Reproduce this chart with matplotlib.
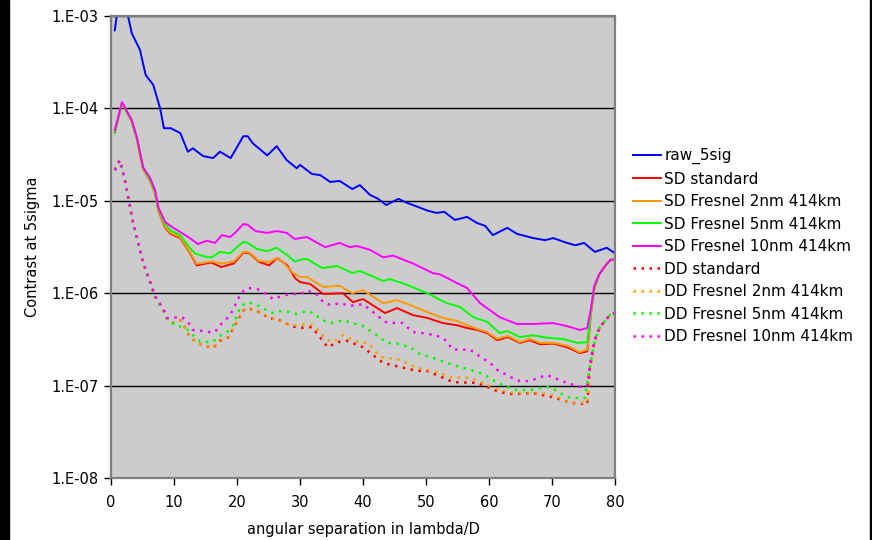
import matplotlib
matplotlib.use("Agg")
import matplotlib.pyplot as plt
from matplotlib.patches import Rectangle
from matplotlib.ticker import FixedLocator, FuncFormatter, NullLocator
import numpy as np

# ---------------- data ----------------
raw_x = [0.6, 1.2, 2.0, 2.7, 3.3, 4.6, 5.5, 6.7, 7.8, 8.4, 9.5, 11.0, 12.2, 13.0, 14.6, 16.2, 17.3, 19.0,
         21.0, 21.7, 22.5, 24.8, 26.3, 27.9, 29.5, 30.0, 31.9, 33.2, 34.8, 36.3, 38.3, 39.5, 41.1, 42.4,
         43.7, 45.6, 47.0, 48.7, 50.3, 51.7, 52.9, 54.6, 56.5, 58.1, 59.4, 60.6, 62.9, 64.4, 67.0, 68.9,
         70.2, 72.1, 73.7, 75.1, 76.8, 78.7, 80.0]
raw_y = [7.0e-4, 1.4e-3, 1.6e-3, 1.0e-3, 6.5e-4, 4.3e-4, 2.3e-4, 1.8e-4, 1.0e-4, 6.1e-5, 6.1e-5, 5.4e-5,
         3.4e-5, 3.7e-5, 3.05e-5, 2.9e-5, 3.4e-5, 2.9e-5, 5.0e-5, 5.0e-5, 4.2e-5, 3.1e-5, 3.9e-5, 2.75e-5,
         2.25e-5, 2.45e-5, 1.95e-5, 1.9e-5, 1.6e-5, 1.64e-5, 1.34e-5, 1.48e-5, 1.16e-5, 1.05e-5, 9.0e-6,
         1.05e-5, 9.5e-6, 8.6e-6, 7.8e-6, 7.4e-6, 7.6e-6, 6.2e-6, 6.7e-6, 5.75e-6, 5.35e-6, 4.25e-6, 5.1e-6,
         4.4e-6, 3.95e-6, 3.75e-6, 3.95e-6, 3.55e-6, 3.3e-6, 3.5e-6, 2.8e-6, 3.1e-6, 2.7e-6]

sd10_x = [0.6, 1.75, 3.3, 4.1, 5.1, 6.2, 7.0, 7.5, 8.6, 9.7, 11.0, 12.5, 13.8, 15.2, 16.5, 17.6, 18.9, 19.7,
          21.0, 21.7, 22.9, 24.8, 26.3, 27.9, 29.2, 30.0, 31.1, 34.0, 36.3, 37.9, 39.0, 41.1, 43.2, 44.8,
          47.9, 51.1, 52.2, 54.9, 56.5, 58.6, 61.7, 64.4, 67.0, 70.2, 72.4, 74.4, 75.6, 76.2, 76.7, 77.5,
          78.5, 79.3, 80.0]
sd10_y = [5.8e-5, 1.17e-4, 7.5e-5, 4.9e-5, 2.3e-5, 1.77e-5, 1.31e-5, 8.6e-6, 5.9e-6, 5.2e-6, 4.6e-6, 3.95e-6,
          3.4e-6, 3.7e-6, 3.5e-6, 4.25e-6, 4.05e-6, 4.5e-6, 5.6e-6, 5.5e-6, 4.7e-6, 4.5e-6, 4.7e-6, 4.5e-6,
          3.85e-6, 3.95e-6, 4.05e-6, 3.15e-6, 3.5e-6, 3.15e-6, 3.25e-6, 2.95e-6, 2.45e-6, 2.55e-6, 2.1e-6,
          1.65e-6, 1.6e-6, 1.29e-6, 1.14e-6, 7.8e-7, 5.5e-7, 4.65e-7, 4.65e-7, 4.75e-7, 4.4e-7, 4.0e-7,
          4.2e-7, 7.0e-7, 1.2e-6, 1.6e-6, 2.0e-6, 2.3e-6, 2.3e-6]

sd5_x = [0.6, 1.75, 3.3, 4.1, 5.1, 6.2, 7.0, 7.5, 8.6, 9.4, 11.0, 12.5, 13.3, 15.2, 16.0, 17.3, 18.9, 21.0,
         21.7, 23.2, 24.8, 26.3, 27.9, 29.2, 30.0, 31.1, 33.5, 35.9, 38.3, 39.5, 43.2, 44.3, 47.0, 50.2,
         53.3, 55.4, 57.5, 59.7, 61.7, 62.9, 64.9, 67.0, 69.2, 71.7, 74.0, 75.6, 76.2, 76.7, 77.5, 78.5,
         79.3, 80.0]
sd5_y = [5.5e-5, 1.15e-4, 7.3e-5, 4.8e-5, 2.25e-5, 1.7e-5, 1.25e-5, 8.3e-6, 5.6e-6, 4.8e-6, 4.25e-6, 3.1e-6,
         2.7e-6, 2.45e-6, 2.45e-6, 2.8e-6, 2.7e-6, 3.6e-6, 3.5e-6, 3.0e-6, 2.85e-6, 3.1e-6, 2.6e-6, 2.2e-6,
         2.3e-6, 2.35e-6, 1.87e-6, 1.97e-6, 1.65e-6, 1.74e-6, 1.36e-6, 1.42e-6, 1.23e-6, 1.0e-6, 7.8e-7,
         7.1e-7, 5.5e-7, 4.9e-7, 3.7e-7, 3.9e-7, 3.35e-7, 3.5e-7, 3.3e-7, 3.2e-7, 2.9e-7, 2.95e-7, 6.5e-7,
         1.15e-6, 1.6e-6, 2.0e-6, 2.3e-6, 2.3e-6]

sd2_x = [0.6, 1.75, 3.3, 4.1, 5.1, 6.2, 7.0, 7.5, 8.6, 9.4, 11.0, 12.5, 13.6, 15.9, 17.5, 19.5, 21.0, 22.0,
         23.5, 25.1, 26.4, 27.3, 28.9, 30.0, 31.1, 33.7, 36.3, 38.3, 40.0, 43.2, 45.4, 47.5, 50.2, 52.7,
         54.9, 58.1, 59.7, 61.3, 63.0, 64.9, 66.5, 68.1, 70.2, 72.4, 74.4, 75.6, 76.2, 76.7, 77.5, 78.5,
         79.3, 80.0]
sd2_y = [5.5e-5, 1.15e-4, 7.2e-5, 4.7e-5, 2.2e-5, 1.65e-5, 1.2e-5, 8.0e-6, 5.2e-6, 4.5e-6, 4.05e-6, 2.8e-6,
         2.07e-6, 2.2e-6, 2.1e-6, 2.2e-6, 2.8e-6, 2.75e-6, 2.23e-6, 2.18e-6, 2.4e-6, 2.18e-6, 1.65e-6,
         1.5e-6, 1.5e-6, 1.17e-6, 1.2e-6, 1.0e-6, 1.08e-6, 7.8e-7, 8.4e-7, 7.45e-7, 6.25e-7, 5.4e-7, 5.0e-7,
         4.1e-7, 3.8e-7, 3.2e-7, 3.45e-7, 2.95e-7, 3.2e-7, 2.9e-7, 2.9e-7, 2.7e-7, 2.3e-7, 2.45e-7, 6.3e-7,
         1.1e-6, 1.6e-6, 2.0e-6, 2.3e-6, 2.3e-6]

sd0_x = [0.6, 1.75, 3.3, 4.1, 5.1, 6.2, 7.0, 7.5, 8.6, 9.4, 11.0, 12.5, 13.6, 15.9, 17.5, 19.5, 21.0, 22.0,
         23.5, 25.1, 26.4, 28.0, 29.2, 30.0, 31.6, 33.7, 36.8, 38.4, 40.0, 43.5, 45.4, 47.9, 50.2, 52.7,
         54.9, 56.5, 58.1, 59.7, 61.3, 63.0, 64.9, 66.5, 68.1, 70.2, 72.4, 74.4, 75.6, 76.2, 76.7, 77.5,
         78.5, 79.3, 80.0]
sd0_y = [5.5e-5, 1.15e-4, 7.2e-5, 4.7e-5, 2.2e-5, 1.65e-5, 1.2e-5, 7.9e-6, 5.1e-6, 4.4e-6, 3.95e-6, 2.75e-6,
         2.0e-6, 2.15e-6, 1.92e-6, 2.1e-6, 2.75e-6, 2.7e-6, 2.18e-6, 2.0e-6, 2.4e-6, 2.0e-6, 1.46e-6,
         1.32e-6, 1.26e-6, 9.8e-7, 1.0e-6, 8.0e-7, 8.65e-7, 6.1e-7, 6.9e-7, 5.8e-7, 5.4e-7, 4.75e-7, 4.5e-7,
         4.2e-7, 4.0e-7, 3.7e-7, 3.1e-7, 3.35e-7, 2.9e-7, 3.1e-7, 2.8e-7, 2.85e-7, 2.6e-7, 2.25e-7, 2.35e-7,
         6.2e-7, 1.1e-6, 1.6e-6, 2.0e-6, 2.3e-6, 2.3e-6]

dd0_x = [0.6, 1.4, 2.2, 2.7, 3.5, 4.3, 5.1, 6.2, 7.0, 8.3, 9.0, 9.8, 11.0, 11.4, 12.5, 13.7, 14.6, 16.2, 17.3,
         18.7, 19.4, 20.2, 20.8, 21.7, 23.2, 24.1, 25.2, 26.0, 27.3, 28.7, 30.0, 31.9, 34.4, 35.9, 37.5,
         40.0, 43.2, 45.9, 48.6, 50.2, 54.3, 58.1, 61.7, 63.8, 67.0, 70.2, 72.9, 75.6, 76.0, 76.8, 77.6,
         79.2, 80.0]
dd0_y = [2.15e-5, 2.75e-5, 1.68e-5, 1.1e-5, 5.75e-6, 3.5e-6, 2.1e-6, 1.32e-6, 9.1e-7, 6.6e-7, 5.1e-7,
         4.75e-7, 5.1e-7, 4.75e-7, 3.35e-7, 2.9e-7, 2.75e-7, 2.55e-7, 3.05e-7, 3.35e-7, 4.2e-7, 5.1e-7,
         6.4e-7, 6.9e-7, 6.4e-7, 5.95e-7, 5.25e-7, 5.35e-7, 4.9e-7, 4.4e-7, 4.2e-7, 4.3e-7, 2.6e-7, 2.95e-7,
         3.05e-7, 2.6e-7, 1.76e-7, 1.59e-7, 1.44e-7, 1.44e-7, 1.09e-7, 1.07e-7, 8.5e-8, 8.1e-8, 8.3e-8,
         7.5e-8, 6.5e-8, 6.3e-8, 1.5e-7, 3.1e-7, 4.3e-7, 5.8e-7, 6.1e-7]

dd2_x = [0.6, 1.4, 2.2, 2.7, 3.5, 4.3, 5.1, 6.2, 7.0, 8.3, 9.0, 9.8, 11.0, 11.4, 12.5, 13.7, 14.6, 16.2, 17.3,
         18.7, 19.4, 20.2, 20.8, 21.7, 23.2, 24.1, 25.2, 26.0, 27.3, 28.7, 30.0, 31.9, 33.2, 34.0, 35.2,
         36.8, 39.2, 40.8, 42.7, 45.9, 48.6, 50.2, 52.2, 54.3, 55.9, 58.1, 59.7, 61.7, 63.8, 66.0, 68.1,
         70.2, 72.4, 74.0, 75.6, 76.0, 76.8, 77.6, 79.2, 80.0]
dd2_y = [2.15e-5, 2.75e-5, 1.68e-5, 1.1e-5, 5.75e-6, 3.5e-6, 2.1e-6, 1.32e-6, 9.1e-7, 6.6e-7, 5.1e-7,
         4.75e-7, 5.1e-7, 4.75e-7, 3.35e-7, 2.9e-7, 2.75e-7, 2.6e-7, 3.05e-7, 3.35e-7, 4.2e-7, 5.1e-7,
         6.4e-7, 6.9e-7, 6.4e-7, 5.95e-7, 5.25e-7, 5.35e-7, 4.9e-7, 4.4e-7, 4.6e-7, 4.5e-7, 3.8e-7, 3.2e-7,
         2.95e-7, 3.5e-7, 2.95e-7, 2.9e-7, 2.05e-7, 1.9e-7, 1.55e-7, 1.48e-7, 1.37e-7, 1.21e-7, 1.24e-7,
         1.15e-7, 1.01e-7, 8.95e-8, 8.3e-8, 8.3e-8, 8.3e-8, 7.9e-8, 6.65e-8, 6.5e-8, 6.5e-8, 1.5e-7,
         3.1e-7, 4.3e-7, 5.8e-7, 6.1e-7]

dd5_x = [0.6, 1.4, 2.2, 2.7, 3.5, 4.3, 5.1, 6.2, 7.0, 8.3, 9.0, 9.7, 12.2, 13.8, 14.9, 16.2, 17.3, 18.4, 19.4,
         20.0, 20.5, 21.6, 22.9, 24.1, 25.6, 26.8, 28.3, 29.5, 31.0, 32.2, 33.5, 35.2, 36.8, 38.4, 40.0,
         42.2, 43.8, 45.4, 47.5, 49.0, 51.7, 53.3, 55.4, 57.0, 58.6, 60.2, 61.3, 62.9, 64.4, 66.5, 68.1,
         69.7, 71.3, 72.4, 74.0, 75.2, 76.0, 76.8, 77.6, 79.2, 80.0]
dd5_y = [2.15e-5, 2.75e-5, 1.68e-5, 1.1e-5, 5.75e-6, 3.5e-6, 2.1e-6, 1.32e-6, 9.1e-7, 6.6e-7, 5.1e-7,
         4.75e-7, 4.0e-7, 3.1e-7, 2.95e-7, 3.0e-7, 3.45e-7, 3.8e-7, 4.5e-7, 5.8e-7, 7.1e-7, 8.0e-7, 7.6e-7,
         6.9e-7, 6.1e-7, 6.4e-7, 6.25e-7, 5.95e-7, 6.4e-7, 6.1e-7, 5.1e-7, 4.75e-7, 5.1e-7, 4.75e-7, 4.4e-7,
         3.5e-7, 2.9e-7, 2.85e-7, 2.6e-7, 2.2e-7, 1.94e-7, 1.76e-7, 1.59e-7, 1.48e-7, 1.37e-7, 1.21e-7,
         1.07e-7, 9.7e-8, 8.95e-8, 8.95e-8, 9.4e-8, 9.7e-8, 8.3e-8, 7.5e-8, 7.35e-8, 7.35e-8, 1.6e-7,
         3.1e-7, 4.3e-7, 5.8e-7, 6.1e-7]

dd10_x = [0.6, 1.4, 2.2, 2.7, 3.5, 4.3, 5.1, 6.2, 7.0, 8.3, 8.9, 11.3, 12.2, 13.0, 13.7, 15.2, 16.5, 17.3,
          18.6, 19.4, 20.0, 20.8, 21.7, 23.2, 24.6, 25.7, 27.1, 28.4, 29.9, 31.1, 32.5, 33.7, 34.8, 36.3,
          37.9, 40.0, 41.6, 43.5, 45.1, 46.3, 47.9, 49.5, 51.1, 52.7, 54.3, 57.0, 58.6, 60.2, 61.3, 63.7,
          64.9, 66.5, 67.8, 69.2, 70.8, 72.4, 74.4, 75.6, 76.0, 76.8, 77.6, 79.2, 80.0]
dd10_y = [2.15e-5, 2.75e-5, 1.7e-5, 1.12e-5, 5.9e-6, 3.6e-6, 2.15e-6, 1.35e-6, 9.3e-7, 6.8e-7, 5.4e-7,
          5.5e-7, 4.9e-7, 4.0e-7, 4.0e-7, 3.8e-7, 3.8e-7, 4.5e-7, 5.5e-7, 6.6e-7, 8.25e-7, 1.03e-6, 1.14e-6,
          1.11e-6, 9.8e-7, 8.65e-7, 9.3e-7, 9.8e-7, 9.8e-7, 1.06e-6, 1.0e-6, 8.0e-7, 7.45e-7, 7.8e-7,
          7.3e-7, 7.6e-7, 6.25e-7, 4.9e-7, 4.75e-7, 4.75e-7, 3.8e-7, 3.7e-7, 3.55e-7, 3.3e-7, 2.45e-7,
          2.45e-7, 2.05e-7, 1.76e-7, 1.48e-7, 1.21e-7, 1.12e-7, 1.12e-7, 1.21e-7, 1.3e-7, 1.18e-7, 1.07e-7,
          9.7e-8, 1.01e-7, 1.7e-7, 3.2e-7, 4.3e-7, 5.8e-7, 6.1e-7]

series_labels = ["raw_5sig", "SD standard", "SD Fresnel 2nm 414km", "SD Fresnel 5nm 414km",
                 "SD Fresnel 10nm 414km", "DD standard", "DD Fresnel 2nm 414km",
                 "DD Fresnel 5nm 414km", "DD Fresnel 10nm 414km"]
x_ticks = [0, 10, 20, 30, 40, 50, 60, 70, 80]
y_ticks = [1e-8, 1e-7, 1e-6, 1e-5, 1e-4, 1e-3]
x_label = "angular separation in lambda/D"
y_label = "Contrast at 5sigma"

# ---------------- plot ----------------
plt.rcParams['font.family'] = ['DejaVu Sans']
fig = plt.figure(figsize=(8.72, 5.40), dpi=100)
fig.patch.set_facecolor('white')
ax = fig.add_axes([111 / 872, 1 - 478 / 540, 504 / 872, 462 / 540])
ax.set_facecolor('#cccccc')

BLUE, RED, ORANGE, GREEN, MAG = '#0000ff', '#ff0000', '#ff9900', '#00ff00', '#ff00ff'
dot = (0, (1, 2.2))
lw = 1.4
series = [
    (raw_x, raw_y, BLUE, '-'),
    (sd0_x, sd0_y, RED, '-'),
    (sd2_x, sd2_y, ORANGE, '-'),
    (sd5_x, sd5_y, GREEN, '-'),
    (sd10_x, sd10_y, MAG, '-'),
    (dd0_x, dd0_y, RED, dot),
    (dd2_x, dd2_y, ORANGE, dot),
    (dd5_x, dd5_y, GREEN, dot),
    (dd10_x, dd10_y, MAG, dot),
]
handles = []
for (xs, ys, c, ls), lab in zip(series, series_labels):
    h, = ax.plot(xs, ys, color=c, linestyle=ls, linewidth=lw if ls == '-' else 1.8, label=lab,
                 solid_joinstyle='round', dash_capstyle='butt')
    handles.append(h)

ax.set_yscale('log')
ax.set_xlim(0, 80)
ax.set_ylim(1e-8, 1e-3)
ax.yaxis.set_major_locator(FixedLocator(y_ticks))
ax.yaxis.set_minor_locator(NullLocator())
ax.yaxis.set_major_formatter(FuncFormatter(lambda v, p: "1.E-%02d" % round(-np.log10(v))))
ax.xaxis.set_major_locator(FixedLocator(x_ticks))
ax.grid(axis='y', which='major', color='black', linewidth=1.0)
ax.set_axisbelow(True)
for s in ax.spines.values():
    s.set_color('#808080')
    s.set_linewidth(1.6)
ax.tick_params(axis='both', direction='out', length=5, width=1.0, color='black',
               labelsize=10.5, pad=4)
ax.tick_params(axis='x', pad=7)
ax.set_xlabel(x_label, fontsize=10.5, labelpad=9)
ax.set_ylabel(y_label, fontsize=10.5, labelpad=8)

leg = fig.legend(handles=handles, loc='upper left', bbox_to_anchor=(633 / 872, 1 - 148 / 540),
                 frameon=False, fontsize=11, handlelength=1.8, handletextpad=0.25,
                 labelspacing=0.49, borderaxespad=0, borderpad=0)

# black border strips as in the reference
fig.add_artist(Rectangle((0, 0), 9 / 872, 1, transform=fig.transFigure, color='black', zorder=10))
fig.add_artist(Rectangle((870 / 872, 0), 2 / 872, 1, transform=fig.transFigure, color='black', zorder=10))

fig.savefig('out.png', dpi=100, facecolor='white')
